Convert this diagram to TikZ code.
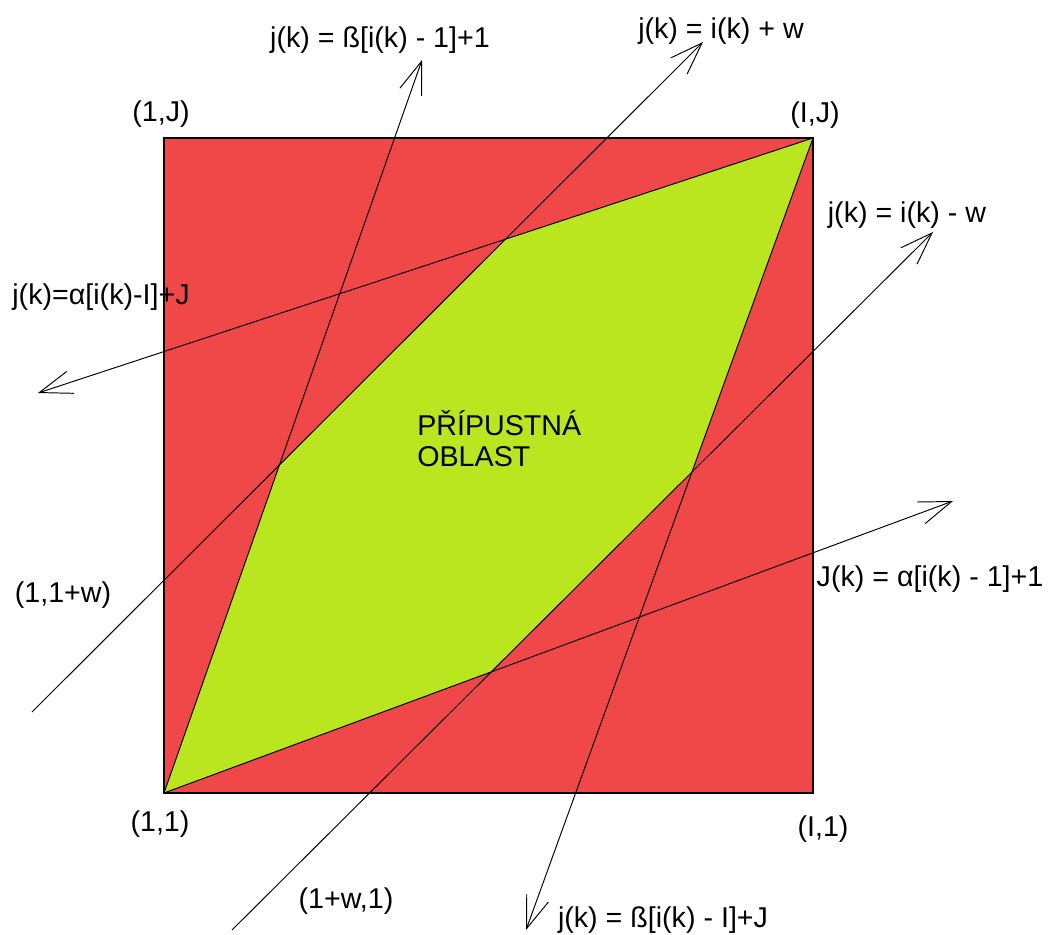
\documentclass[tikz,border=0pt]{standalone}
\usepackage{fontspec}
\setmainfont{Liberation Sans}
\usetikzlibrary{arrows.meta}
\definecolor{forbidred}{RGB}{240,72,72}
\definecolor{allowgreen}{RGB}{185,230,30}

\begin{document}
\begin{tikzpicture}[x=0.02cm, y=-0.02cm,
  lbl/.style={font=\fontsize{16.3}{17.6}\selectfont, inner sep=0pt},
  frame/.style={draw=black, line width=0.8pt, fill=forbidred},
  region/.style={fill=allowgreen},
  ray/.style={black, line width=0.55pt, -{Straight Barb[length=6.5mm,width=4.6mm]}}]
  \useasboundingbox (0,0) rectangle (1048,934);
  % corners of the grid
  \coordinate (c11) at (164,793);  \coordinate (cI1) at (813,793);
  \coordinate (c1J) at (164,138);  \coordinate (cIJ) at (813,138);
  % ends of the bounding lines
  \coordinate (betaTip)   at (422,60);
  \coordinate (betaBTip)  at (526,930);
  \coordinate (alphaTip)  at (38,393);
  \coordinate (alphaBTip) at (953,501);
  \coordinate (wpStart) at (32,712);  \coordinate (wpTip) at (703,42);
  \coordinate (wmStart) at (232,930); \coordinate (wmTip) at (933,232);
  % vertices of the admissible region
  \coordinate (gL) at (intersection of c11--betaTip and wpStart--wpTip);
  \coordinate (gT) at (intersection of cIJ--alphaTip and wpStart--wpTip);
  \coordinate (gR) at (intersection of cIJ--betaBTip and wmStart--wmTip);
  \coordinate (gB) at (intersection of c11--alphaBTip and wmStart--wmTip);
  % areas
  \path[frame] (c11) rectangle (cIJ);
  \fill[region] (c11) -- (gL) -- (gT) -- (cIJ) -- (gR) -- (gB) -- cycle;
  % lines
  \draw[ray] (c11) -- (betaTip);
  \draw[ray] (cIJ) -- (betaBTip);
  \draw[ray] (cIJ) -- (alphaTip);
  \draw[ray] (c11) -- (alphaBTip);
  \draw[ray] (wpStart) -- (wpTip);
  \draw[ray] (wmStart) -- (wmTip);
  \draw[black, line width=0.8pt] (c11) rectangle (cIJ);
  % labels
  \node[lbl] (lblBeta)   at (380,40)  {j(k) = ß[i(k) - 1]+1};
  \node[lbl] (lblWp)     at (721,31)  {j(k) = i(k) + w};
  \node[lbl] (lbl1J)     at (161,114) {(1,J)};
  \node[lbl] (lblIJ)     at (815,115) {(I,J)};
  \node[lbl] (lblWm)     at (907,215) {j(k) = i(k) - w};
  \node[lbl] (lblAlpha)  at (101,297) {j(k)=α[i(k)-I]+J};
  \node[lbl, align=left, anchor=north west] (lblRegion) at (417,410) {PŘÍPUSTNÁ\\OBLAST};
  \node[lbl] (lbl11w)    at (63,595)  {(1,1+w)};
  \node[lbl] (lblAlphaB) at (930,579) {J(k) = α[i(k) - 1]+1};
  \node[lbl] (lbl11)     at (160,824) {(1,1)};
  \node[lbl] (lblI1)     at (823,829) {(I,1)};
  \node[lbl] (lbl1w1)    at (346,901) {(1+w,1)};
  \node[lbl] (lblBetaB)  at (663,920) {j(k) = ß[i(k) - I]+J};
\end{tikzpicture}
\end{document}
